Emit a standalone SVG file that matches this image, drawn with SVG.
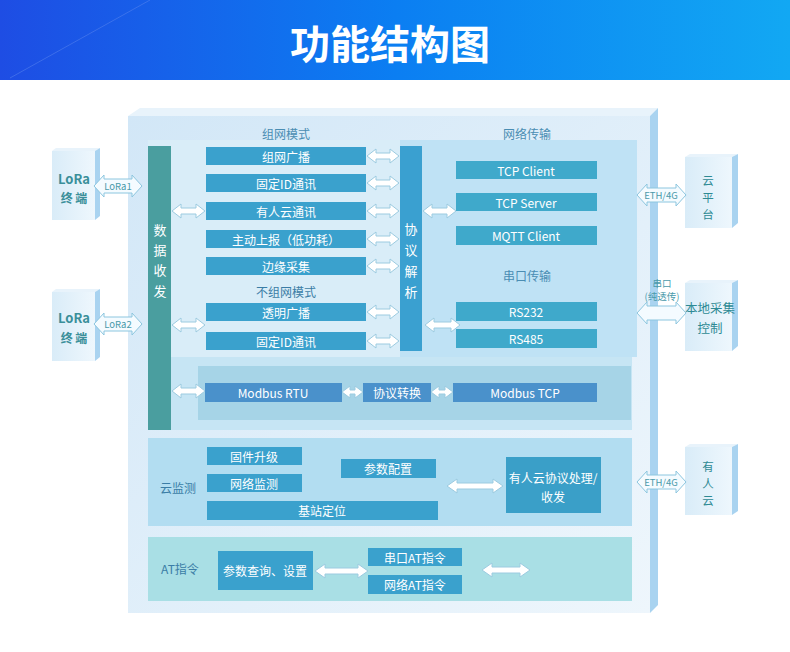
<svg xmlns="http://www.w3.org/2000/svg" width="790" height="652" viewBox="0 0 790 652">
<defs>
<linearGradient id="hdr" x1="0" y1="0" x2="1" y2="0">
<stop offset="0" stop-color="#1e4de4"/>
<stop offset="0.5" stop-color="#0b7ef2"/>
<stop offset="1" stop-color="#12a8f3"/>
</linearGradient>
<linearGradient id="front" x1="0" y1="0" x2="1" y2="1">
<stop offset="0" stop-color="#d2e7f7"/>
<stop offset="1" stop-color="#eef6fc"/>
</linearGradient>
<linearGradient id="boxg" x1="0" y1="0" x2="1" y2="0">
<stop offset="0" stop-color="#d9ecf8"/>
<stop offset="1" stop-color="#eef7fd"/>
</linearGradient>
<style>
text{font-family:"Noto Sans CJK SC","Noto Sans",sans-serif;text-anchor:middle;dominant-baseline:central}
.bx{fill:#3aa1cd}
.nb{fill:#3fa9cb}
.mb{fill:#4a91cb}
.wt{fill:#ffffff;font-size:12px}
.vt{fill:#ffffff;font-size:13px}
.lb{fill:#4a8db3;font-size:12px}
.lb2{fill:#3b7da6;font-size:12px}
.tl{fill:#3a8f9a;font-size:13px;font-weight:bold}
.tl2{fill:#3a8f9a;font-size:12px;font-weight:bold}
.rt{fill:#2e8a94;font-size:11.5px}
.rt2{fill:#2e8a94;font-size:12.5px}
.ar{fill:#ffffff;stroke:#9ccbe0;stroke-width:1}
.arb{fill:#f4fbff;stroke:#8cc6df;stroke-width:1}
.al{fill:#4a9aaa;font-size:9.5px}
.side{fill:#a9d3f0}
.top{fill:#e8f3fb}
</style>
</defs>

<g id="header">
<rect x="0" y="0" width="790" height="80" fill="url(#hdr)"/>
<line x1="10" y1="78" x2="150" y2="0" stroke="#5f8af0" stroke-width="0.8" opacity="0.6"/>
<text x="390" y="42" fill="#ffffff" font-size="40" font-weight="bold">功能结构图</text>
</g>

<g id="main-box">
<polygon class="top" points="128,116 140,108 658,108 650,116"/>
<polygon class="side" points="650,116 658,108 658,605 650,613"/>
<rect x="128" y="116" width="522" height="497" fill="url(#front)"/>
<text class="lb" x="286" y="133">组网模式</text>
<text class="lb" x="527" y="133">网络传输</text>
<rect x="148" y="140" width="252" height="217" fill="#d9edf8"/>
<rect x="400" y="140" width="237" height="217" fill="#bfe2f5"/>
<rect x="148" y="357" width="484" height="73" fill="#c6e5f4"/>
<rect x="198" y="366" width="433" height="54" fill="#a6d4e7"/>
</g>

<g id="data-col">
<rect x="148" y="146" width="23" height="284" fill="#4a9e9f"/>
<text class="vt" x="160" y="229">数</text>
<text class="vt" x="160" y="249">据</text>
<text class="vt" x="160" y="269">收</text>
<text class="vt" x="160" y="290">发</text>
</g>

<g id="mesh-nodes">
<rect class="bx" x="206" y="147" width="160" height="18"/>
<text class="wt" x="286" y="156">组网广播</text>
<rect class="bx" x="206" y="174" width="160" height="18"/>
<text class="wt" x="286" y="183">固定ID通讯</text>
<rect class="bx" x="206" y="202" width="160" height="18"/>
<text class="wt" x="286" y="211">有人云通讯</text>
<rect class="bx" x="206" y="230" width="160" height="18"/>
<text class="wt" x="286" y="239">主动上报（低功耗）</text>
<rect class="bx" x="206" y="257" width="160" height="18"/>
<text class="wt" x="286" y="266">边缘采集</text>
<text class="lb2" x="286" y="291">不组网模式</text>
<rect class="bx" x="206" y="303" width="160" height="18"/>
<text class="wt" x="286" y="312">透明广播</text>
<rect class="bx" x="206" y="332" width="160" height="18"/>
<text class="wt" x="286" y="341">固定ID通讯</text>
</g>

<g id="protocol-col">
<rect x="400" y="146" width="22" height="205" fill="#3aa0d0"/>
<text class="vt" x="411" y="228">协</text>
<text class="vt" x="411" y="249">议</text>
<text class="vt" x="411" y="270">解</text>
<text class="vt" x="411" y="291">析</text>
</g>

<g id="net-nodes">
<rect class="nb" x="456" y="161" width="141" height="18"/>
<text class="wt" x="526" y="170">TCP Client</text>
<rect class="nb" x="456" y="193" width="141" height="18"/>
<text class="wt" x="526" y="202">TCP Server</text>
<rect class="nb" x="456" y="226" width="141" height="19"/>
<text class="wt" x="526" y="235.5">MQTT Client</text>
<text class="lb" x="527" y="275">串口传输</text>
<rect class="nb" x="456" y="302" width="141" height="19"/>
<text class="wt" x="526" y="311.5">RS232</text>
<rect class="nb" x="456" y="329" width="141" height="19"/>
<text class="wt" x="526" y="338.5">RS485</text>
</g>

<g id="modbus-nodes">
<rect class="mb" x="205" y="383" width="137" height="19"/>
<text class="wt" x="273" y="392.5">Modbus RTU</text>
<rect class="mb" x="363" y="383" width="68" height="19"/>
<text class="wt" x="397" y="392.5">协议转换</text>
<rect class="mb" x="453" y="383" width="144" height="19"/>
<text class="wt" x="525" y="392.5">Modbus TCP</text>
</g>

<g id="cloud-monitor">
<rect x="148" y="438" width="484" height="88" fill="#b2ddf1"/>
<text class="lb2" x="178" y="487">云监测</text>
<rect class="bx" x="207" y="447" width="95" height="18"/>
<text class="wt" x="254" y="456">固件升级</text>
<rect class="bx" x="207" y="474" width="95" height="18"/>
<text class="wt" x="254" y="483">网络监测</text>
<rect class="bx" x="207" y="501" width="231" height="19"/>
<text class="wt" x="322" y="510.5">基站定位</text>
<rect class="bx" x="341" y="459" width="95" height="19"/>
<text class="wt" x="388" y="468.5">参数配置</text>
<rect x="506" y="457" width="95" height="56" fill="#3a9fc8"/>
<text class="wt" x="553" y="477">有人云协议处理/</text>
<text class="wt" x="553" y="496">收发</text>
</g>

<g id="at-cmd">
<rect x="148" y="537" width="484" height="64" fill="#a9dfe5"/>
<text class="lb2" x="180" y="568">AT指令</text>
<rect class="bx" x="218" y="551" width="95" height="39"/>
<text class="wt" x="265" y="570.5">参数查询、设置</text>
<rect class="bx" x="368" y="548" width="94" height="18"/>
<text class="wt" x="415" y="557">串口AT指令</text>
<rect class="bx" x="368" y="575" width="94" height="19"/>
<text class="wt" x="415" y="584.5">网络AT指令</text>
</g>

<g id="lora1">
<polygon class="top" points="52,151 56,148 100,148 95,151"/>
<polygon class="side" points="95,151 100,148 100,216 95,220"/>
<rect x="52" y="151" width="43" height="69" fill="url(#boxg)"/>
<text class="tl" x="74" y="178">LoRa</text>
<text class="tl2" x="74" y="197">终 端</text>
</g>
<g id="lora2">
<polygon class="top" points="52,292 56,289 100,289 95,292"/>
<polygon class="side" points="95,292 100,289 100,357 95,361"/>
<rect x="52" y="292" width="43" height="69" fill="url(#boxg)"/>
<text class="tl" x="74" y="317">LoRa</text>
<text class="tl2" x="74" y="337">终 端</text>
</g>

<g id="cloud-platform">
<polygon class="top" points="685,157 690,154 738,154 732,157"/>
<polygon class="side" points="732,157 738,154 738,223 732,228"/>
<rect x="685" y="157" width="47" height="71" fill="url(#boxg)"/>
<text class="rt" x="708" y="180">云</text>
<text class="rt" x="708" y="197">平</text>
<text class="rt" x="708" y="214">台</text>
</g>
<g id="local-control">
<polygon class="top" points="685,283 690,280 738,280 732,283"/>
<polygon class="side" points="732,283 738,280 738,346 732,351"/>
<rect x="685" y="283" width="47" height="68" fill="url(#boxg)"/>
<text class="rt2" x="710" y="307">本地采集</text>
<text class="rt2" x="710" y="327">控制</text>
</g>
<g id="usr-cloud">
<polygon class="top" points="685,447 690,444 738,444 732,447"/>
<polygon class="side" points="732,447 738,444 738,511 732,515"/>
<rect x="685" y="447" width="47" height="68" fill="url(#boxg)"/>
<text class="rt" x="708" y="466">有</text>
<text class="rt" x="708" y="483">人</text>
<text class="rt" x="708" y="500">云</text>
</g>

<g id="connectors">
<polygon class="arb" points="94,186 104,175 104,179 132,179 132,175 142,186 132,197 132,193 104,193 104,197"/>
<text class="al" x="118" y="186">LoRa1</text>
<polygon class="arb" points="94,324 104,313 104,317 132,317 132,313 142,324 132,335 132,331 104,331 104,335"/>
<text class="al" x="118" y="324">LoRa2</text>
<polygon class="arb" points="637,195 647,184 647,188 676,188 676,184 686,195 676,206 676,202 647,202 647,206"/>
<text class="al" x="661" y="195">ETH/4G</text>
<text class="al" x="662" y="283">串口</text>
<text class="al" x="662" y="296">(纯透传)</text>
<polygon class="arb" points="637,313 647,302 647,306 676,306 676,302 686,313 676,324 676,320 647,320 647,324"/>
<polygon class="arb" points="637,482 647,471 647,475 676,475 676,471 686,482 676,493 676,489 647,489 647,493"/>
<text class="al" x="661" y="482">ETH/4G</text>
<polygon class="ar" points="172,211 181,204 181,208 196,208 196,204 205,211 196,218 196,214 181,214 181,218"/>
<polygon class="ar" points="172,325 181,318 181,322 196,322 196,318 205,325 196,332 196,328 181,328 181,332"/>
<polygon class="ar" points="172,391 181,384 181,388 196,388 196,384 205,391 196,398 196,394 181,394 181,398"/>
<polygon class="ar" points="367,156 376,149 376,153 390,153 390,149 399,156 390,163 390,159 376,159 376,163"/>
<polygon class="ar" points="367,183 376,176 376,180 390,180 390,176 399,183 390,190 390,186 376,186 376,190"/>
<polygon class="ar" points="367,211 376,204 376,208 390,208 390,204 399,211 390,218 390,214 376,214 376,218"/>
<polygon class="ar" points="367,239 376,232 376,236 390,236 390,232 399,239 390,246 390,242 376,242 376,246"/>
<polygon class="ar" points="367,266 376,259 376,263 390,263 390,259 399,266 390,273 390,269 376,269 376,273"/>
<polygon class="ar" points="367,312 376,305 376,309 390,309 390,305 399,312 390,319 390,315 376,315 376,319"/>
<polygon class="ar" points="367,341 376,334 376,338 390,338 390,334 399,341 390,348 390,344 376,344 376,348"/>
<polygon class="ar" points="423,211 432,204 432,208 447,208 447,204 456,211 447,218 447,214 432,214 432,218"/>
<polygon class="ar" points="425,325 434,318 434,322 451,322 451,318 460,325 451,332 451,328 434,328 434,332"/>
<polygon class="ar" points="342,392 350,386 350,390 355,390 355,386 363,392 355,398 355,394 350,394 350,398"/>
<polygon class="ar" points="431,392 439,386 439,390 445,390 445,386 453,392 445,398 445,394 439,394 439,398"/>
<polygon class="ar" points="447,486 457,479 457,483 493,483 493,479 503,486 493,493 493,489 457,489 457,493"/>
<polygon class="ar" points="315,571 325,564 325,568 358,568 358,564 368,571 358,578 358,574 325,574 325,578"/>
<polygon class="ar" points="482,570 492,563 492,567 520,567 520,563 530,570 520,577 520,573 492,573 492,577"/>
</g>
</svg>
